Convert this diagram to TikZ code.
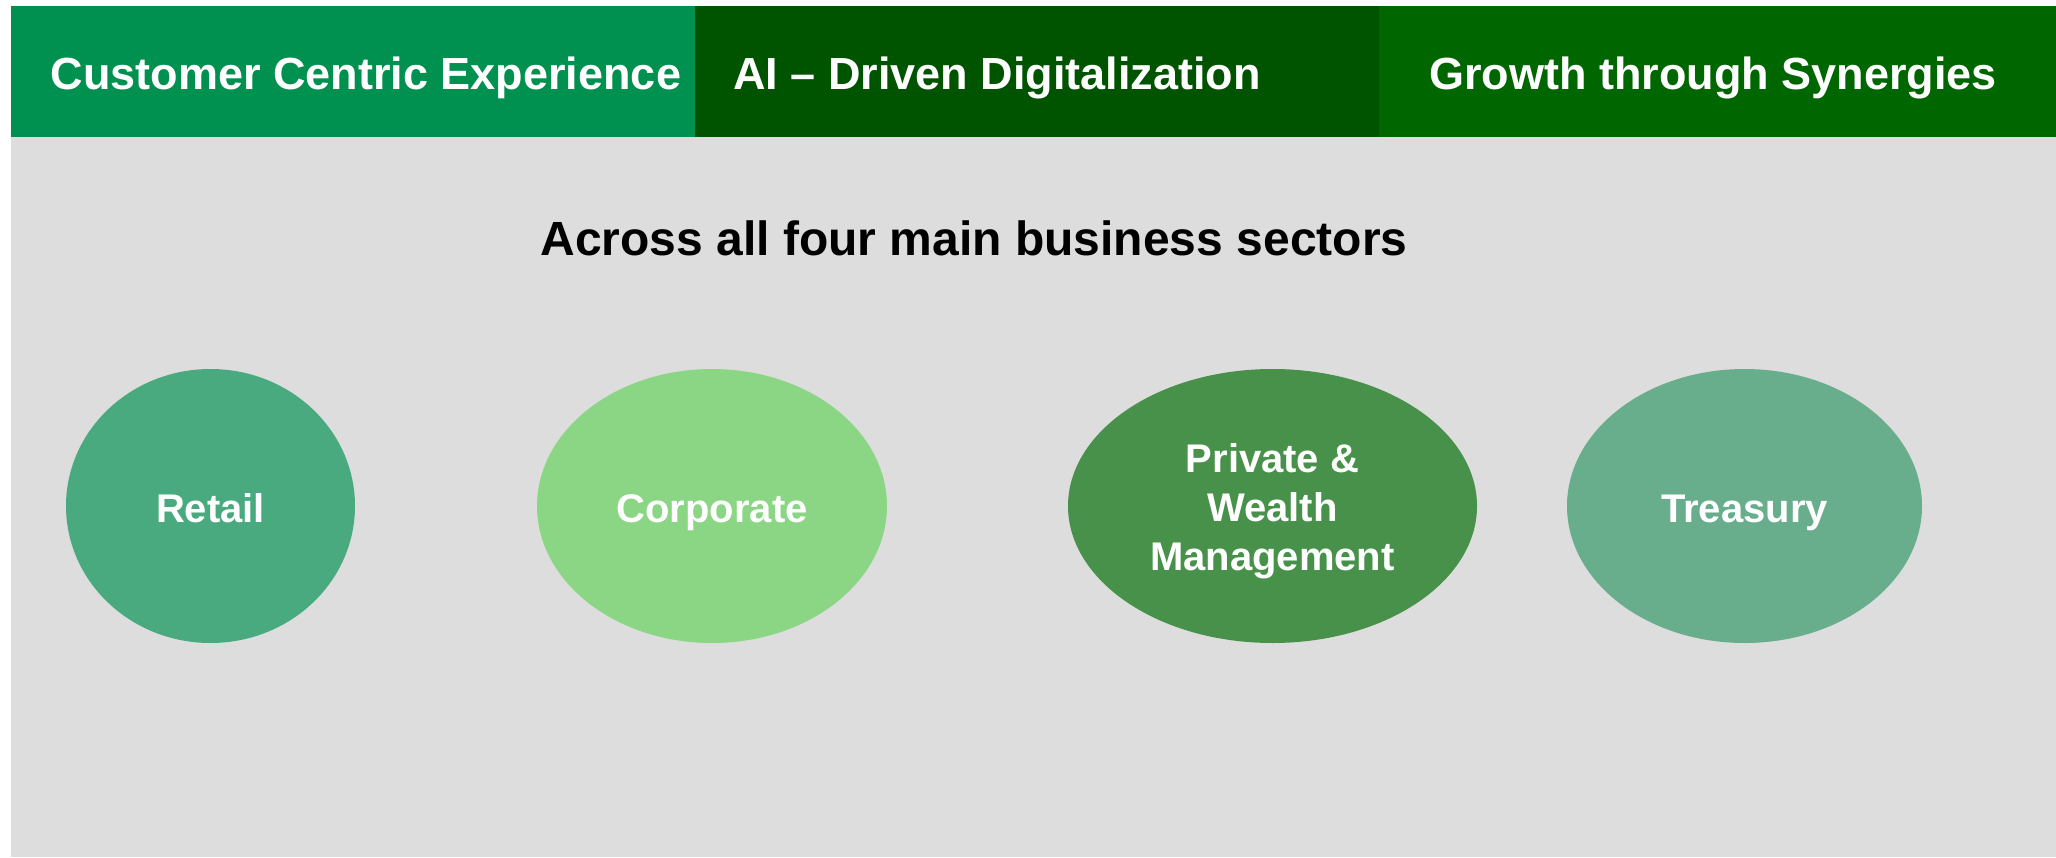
\documentclass[tikz,border=0pt]{standalone}
\usepackage{fontspec}
\setmainfont{Liberation Sans}
\usepackage{tikz}
\usetikzlibrary{shapes.geometric}

\definecolor{hdrone}{HTML}{00904F}
\definecolor{hdrtwo}{HTML}{005400}
\definecolor{hdrthree}{HTML}{006700}
\definecolor{panelgray}{HTML}{DDDDDD}
\definecolor{retailgreen}{HTML}{49AA7F}
\definecolor{corpgreen}{HTML}{8AD684}
\definecolor{pwmgreen}{HTML}{48914A}
\definecolor{treasgreen}{HTML}{68AE8D}

\begin{document}
\begin{tikzpicture}[x=1pt,y=-1pt,
    hdrtext/.style={text=white, font=\fontsize{45}{54}\selectfont\bfseries, inner sep=0pt, anchor=base},
    sector/.style={ellipse, inner sep=0pt, minimum height=274pt},
    sectortext/.style={text=white, align=center, inner sep=0pt,
        font=\fontsize{40}{49}\selectfont\bfseries}]
    \useasboundingbox (0,0) rectangle (2056,857);
    \fill[white] (0,0) rectangle (2056,857);
    % grey panel and the three headers
    \fill[panelgray] (11,137) rectangle (2056,857);
    \fill[hdrone] (11,6) rectangle (695,137);
    \fill[hdrtwo] (695,6) rectangle (1379,137);
    \fill[hdrthree] (1379,6) rectangle (2056,137);
    \node[hdrtext] (cce) at (366,89) {Customer Centric Experience};
    \node[hdrtext] (aidd) at (997,89) {AI – Driven Digitalization};
    \node[hdrtext] (gts) at (1713,89) {Growth through Synergies};
    \node[font=\fontsize{48}{56}\selectfont\bfseries, inner sep=0pt, anchor=base] (across) at (974,255) {Across all four main business sectors};
    % sectors
    \node[sector, fill=retailgreen, minimum width=289pt] (retail) at (210.5,506) {};
    \node[sector, fill=corpgreen, minimum width=350pt] (corporate) at (712,506) {};
    \node[sector, fill=pwmgreen, minimum width=409pt] (pwm) at (1272.5,506) {};
    \node[sector, fill=treasgreen, minimum width=355pt] (treasury) at (1744.5,506) {};
    \node[sectortext, anchor=base] at (210.5,522) {Retail};
    \node[sectortext, anchor=base] at (712,522) {Corporate};
    \node[sectortext] at (1272.5,511) {Private \&\\Wealth\\Management};
    \node[sectortext, anchor=base] at (1744.5,522) {Treasury};
\end{tikzpicture}
\end{document}
